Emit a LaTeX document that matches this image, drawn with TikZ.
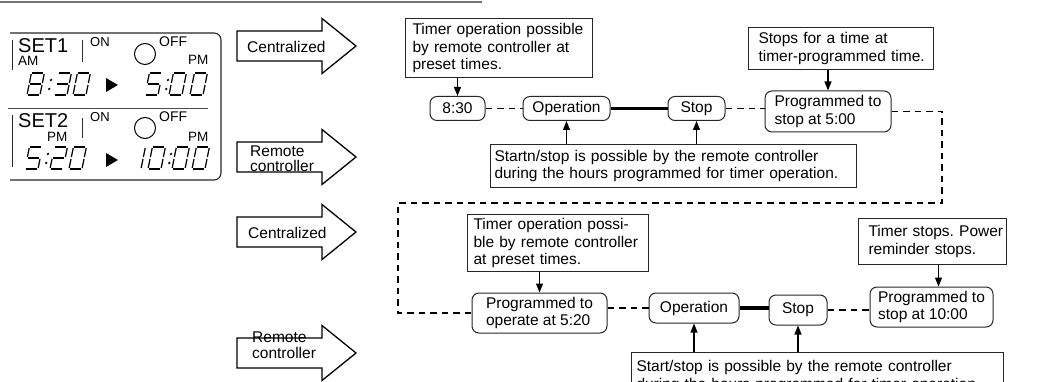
\documentclass[tikz,border=0pt]{standalone}
\usepackage{fontspec}
\setmainfont{Liberation Sans}
\usetikzlibrary{arrows.meta}
\frenchspacing
% seven-segment digits: segments as x1/y1/x2/y2 (y upwards)
\def\dZero{1/22/12/22, 13/21/13/12, 13/10/13/1, 1/0/12/0, 0/1/0/10, 0/12/0/21}
\def\dOne{13/21/13/12, 13/10/13/1}
\def\dTwo{1/22/12/22, 13/21/13/12, 1/11/12/11, 0/1/0/10, 1/0/12/0}
\def\dThree{1/22/12/22, 13/21/13/12, 1/11/12/11, 13/10/13/1, 1/0/12/0}
\def\dFive{1/22/12/22, 0/12/0/21, 1/11/12/11, 13/10/13/1, 1/0/12/0}
\def\dEight{1/22/12/22, 13/21/13/12, 13/10/13/1, 1/0/12/0, 0/1/0/10, 0/12/0/21, 1/11/12/11}
\newcommand\segdigit[3]{\begin{scope}[shift={(#1,#2)},xslant=0.2]
  \foreach \xa/\ya/\xb/\yb in #3 {\draw[segline] (\xa,-\ya) -- (\xb,-\yb);}
  \end{scope}}
\newcommand\segcolon[2]{\begin{scope}[shift={(#1,#2)},xslant=0.2]
  \fill (0,-6) circle (1.3); \fill (0,-15) circle (1.3);
  \end{scope}}
\newcommand\blockarrow[1]{\draw[barrow] (237,#1-15) -- (322,#1-15) -- (322,#1-27.5) -- (356,#1) -- (322,#1+27.5) -- (322,#1+15) -- (237,#1+15) -- cycle;}
\begin{document}
\begin{tikzpicture}[x=1pt,y=-1pt,
  every node/.style={font=\fontsize{15.5}{17.5}\selectfont, text=black},
  tbox/.style={draw=black!85, line width=1pt, anchor=north west, align=left, inner ysep=2pt},
  rnode/.style={draw=black!85, line width=1pt, rounded corners=7pt, align=left, inner sep=0pt},
  dashline/.style={line width=1.6pt, dash pattern=on 6.5pt off 5pt},
  thickline/.style={line width=3.2pt},
  arr/.style={line width=1.1pt, -{Triangle[length=9pt,width=7pt]}},
  barrow/.style={line width=1.3pt, fill=white, draw=black},
  segline/.style={line width=1.2pt},
  lcd/.style={anchor=base west, inner sep=0pt},
  atext/.style={anchor=base west, inner sep=0pt, align=left, font=\fontsize{15.5}{15.5}\selectfont}]
\useasboundingbox (0,0) rectangle (1057,382);
\clip (0,0) rectangle (1057,382);

% top rule
\draw[black!55, line width=2pt] (0,2) -- (482,2);

% ---------- LCD panel ----------
\draw[line width=1.1pt, black!85, rounded corners=7pt] (10,33) -- (221,33) -- (221,180) -- (10,180);
\draw[line width=1pt, black!85] (12,40) -- (12,70);
\draw[line width=1pt, black!85] (12,115) -- (12,167);
\draw[line width=0.9pt, black!70] (8,108) -- (208,108);
\draw[line width=1pt, black!80] (82,40) -- (82,62);
\draw[line width=1pt, black!80] (82,118) -- (82,138);
\draw[line width=1pt] (145,54) circle (10.5);
\draw[line width=1pt] (145,128) circle (10.5);

\node[lcd, font=\fontsize{20}{22}\selectfont] (set1) at (18,53) {SET1};
\node[lcd, font=\fontsize{13.5}{15}\selectfont] (am1) at (18,66) {AM};
\node[lcd, font=\fontsize{13}{15}\selectfont] (on1) at (90,47) {ON};
\node[lcd, font=\fontsize{14}{15}\selectfont] (off1) at (159,47) {OFF};
\node[lcd, font=\fontsize{13.5}{15}\selectfont] (pm1) at (188,65) {PM};

\node[lcd, font=\fontsize{20}{22}\selectfont] (set2) at (18,128) {SET2};
\node[lcd, font=\fontsize{13.5}{15}\selectfont] (pm2a) at (47,142) {PM};
\node[lcd, font=\fontsize{13}{15}\selectfont] (on2) at (90,122) {ON};
\node[lcd, font=\fontsize{14}{15}\selectfont] (off2) at (159,122) {OFF};
\node[lcd, font=\fontsize{13.5}{15}\selectfont] (pm2b) at (188,142) {PM};

\segdigit{27}{95}{\dEight}
\segcolon{48}{95}
\segdigit{54}{95}{\dThree}
\segdigit{73}{95}{\dZero}
\fill (106,78) -- (118,85) -- (106,92) -- cycle;
\segdigit{145}{95}{\dFive}
\segcolon{165}{95}
\segdigit{169}{95}{\dZero}
\segdigit{190}{95}{\dZero}

\segdigit{25}{169}{\dFive}
\segcolon{45}{169}
\segdigit{50}{169}{\dTwo}
\segdigit{69}{169}{\dZero}
\fill (106,153) -- (118,160) -- (106,167) -- cycle;
\segdigit{128}{169}{\dOne}
\segdigit{148}{169}{\dZero}
\segcolon{168}{169}
\segdigit{172}{169}{\dZero}
\segdigit{192}{169}{\dZero}

% ---------- block arrows ----------
\blockarrow{46}
\blockarrow{157}
\blockarrow{232}
\blockarrow{353}
\node[atext] (cen1) at (247,53) {Centralized};
\node[atext] (rem1) at (250,172) {Remote\\controller};
\node[atext] (cen2) at (248,238) {Centralized};
\node[atext] (rem2) at (252,358) {Remote\\controller};

% ---------- row 1 ----------
\node[tbox, text width=173, inner xsep=7, minimum height=59] (b1) at (405,18)
  {\mbox{Timer operation possible}\\\mbox{by remote controller at}\\\mbox{preset times.}};
\node[tbox, text width=165, inner xsep=10, minimum height=42] (b2) at (748,27)
  {\mbox{Stops for a time at}\\\mbox{timer-programmed time.}};
\node[tbox, text width=358, inner xsep=4, minimum height=43] (b3) at (490,144)
  {\mbox{Startn/stop is possible by the remote controller}\\\mbox{during the hours programmed for timer operation.}};

\node[rnode, minimum width=55, minimum height=24] (n1) at (457.5,108.5) {8:30};
\node[rnode, minimum width=87, minimum height=24] (n2) at (566.5,108.5) {Operation};
\node[rnode, minimum width=57, minimum height=24] (n3) at (696.5,108.5) {Stop};
\node[rnode, minimum width=126, minimum height=41] (n4) at (828,111.5) {Programmed to\\stop at 5:00};

\draw[arr] (b1.south -| n1.north) -- (n1.north);
\draw[arr] (b2.south -| n4.north) -- (n4.north);
\draw[arr] (b3.north -| n2.south) -- (n2.south);
\draw[arr] (b3.north -| n3.south) -- (n3.south);

\draw[dashline] (n1.east) -- (n2.west);
\draw[thickline] (n2.east) -- (n3.west);
\draw[dashline] (n3.east) -- (n3.east -| n4.west);

% ---------- link between rows ----------
\coordinate (t1) at (942,203);
\coordinate (t2) at (398,203);

% ---------- row 2 ----------
\node[tbox, text width=169, inner xsep=6, minimum height=57] (b4) at (467,214)
  {\mbox{Timer operation possi-}\\\mbox{ble by remote controller}\\\mbox{at preset times.}};
\node[tbox, text width=128, inner xsep=10, minimum height=46] (b5) at (858,218)
  {\mbox{Timer stops. Power}\\\mbox{reminder stops.}};
\node[tbox, text width=362, inner xsep=5, minimum height=48] (b6) at (631,352)
  {\mbox{Start/stop is possible by the remote controller}\\\mbox{during the hours programmed for timer operation.}};

\node[rnode, minimum width=135, minimum height=40] (n5) at (539.5,313) {Programmed to\\operate at 5:20};
\node[rnode, minimum width=90, minimum height=30] (n6) at (694,308) {Operation};
\node[rnode, minimum width=58, minimum height=30] (n7) at (798,310) {Stop};
\node[rnode, minimum width=123, minimum height=40] (n8) at (931.5,307) {Programmed to\\stop at 10:00};

\draw[dashline] (n4.east) -| (t1) -- (t2) |- (n5.west);

\draw[arr] (b4.south -| n5.north) -- (n5.north);
\draw[arr] ([xshift=7pt]n8.north |- b5.south) -- ([xshift=7pt]n8.north);
\draw[arr] (b6.north -| n6.south) -- (n6.south);
\draw[arr] (b6.north -| n7.south) -- (n7.south);

\draw[dashline] (n6.west -| n5.east) -- (n6.west);
\draw[thickline] (n6.east) -- (n6.east -| n7.west);
\draw[dashline] (n7.east) -- (n7.east -| n8.west);
\end{tikzpicture}
\end{document}
